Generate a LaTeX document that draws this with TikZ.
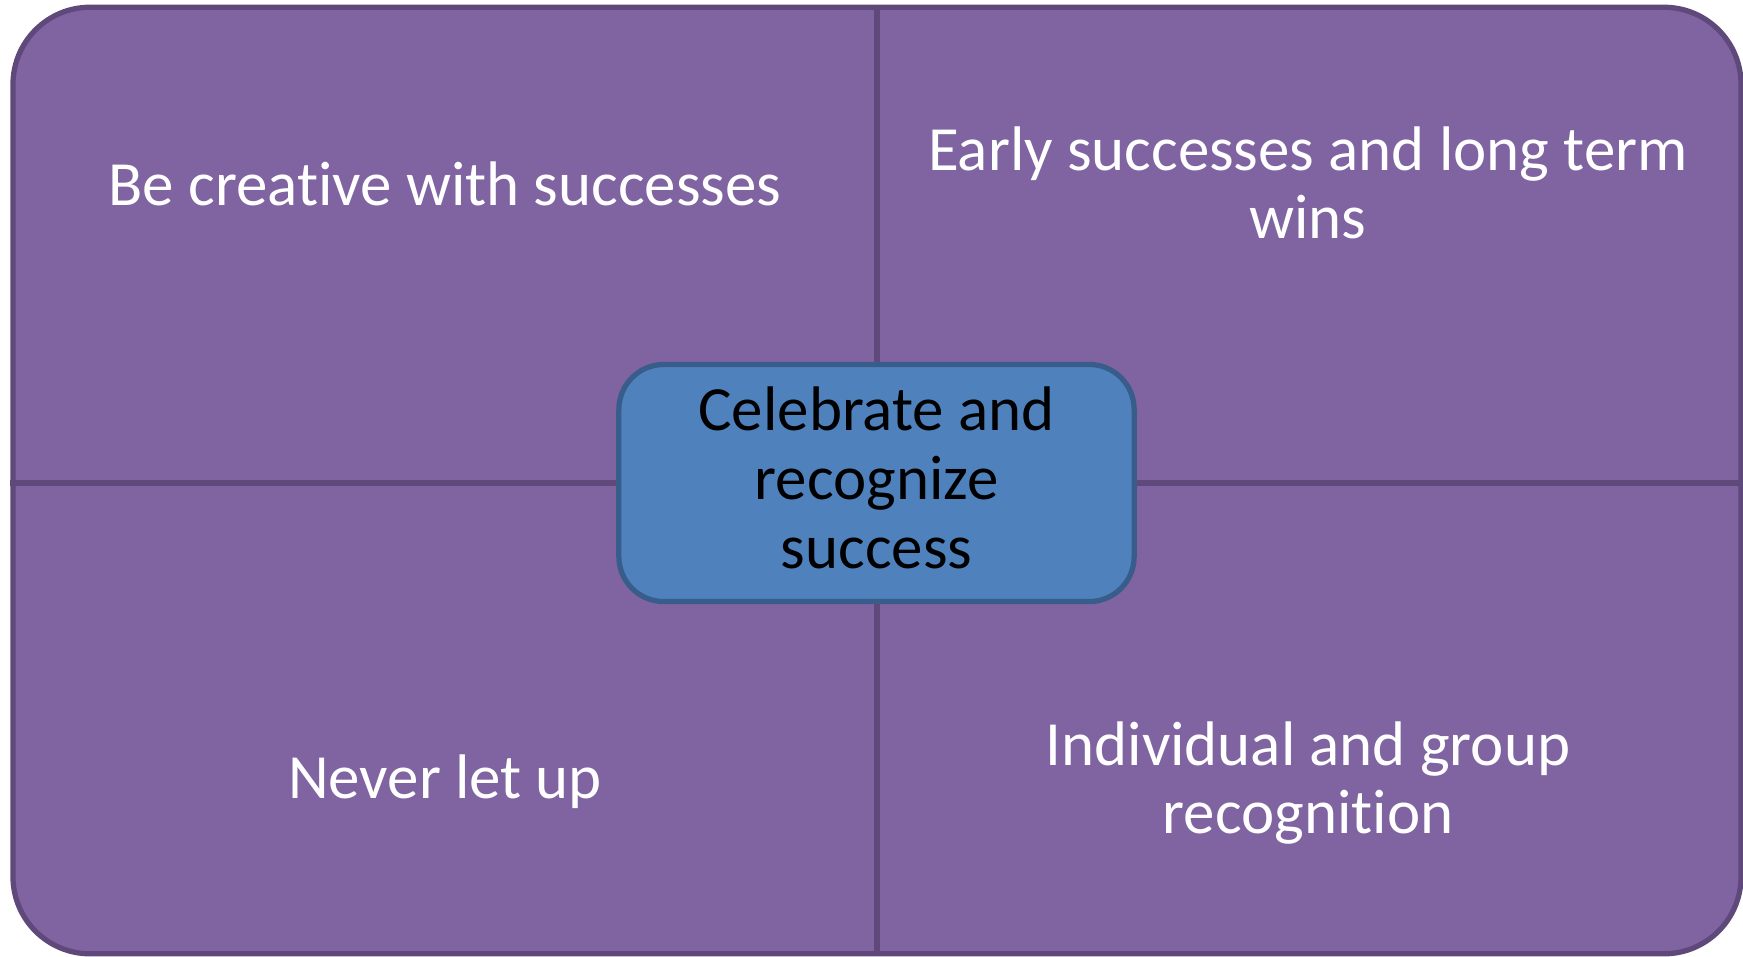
\documentclass[tikz,border=0pt]{standalone}
\usepackage{fontspec}
\setmainfont{Carlito}[Ligatures=NoCommon]
\usepackage{xcolor}
\usetikzlibrary{positioning}

\definecolor{quadfill}{HTML}{8064A2}
\definecolor{quadline}{HTML}{5F497A}
\definecolor{hubfill}{HTML}{4F81BD}
\definecolor{hubline}{HTML}{385D8A}

\begin{document}
\begin{tikzpicture}[x=0.01cm, y=-0.01cm,
    frame/.style={draw=quadline, fill=quadfill, line width=1.5pt,
        rounded corners=0.77cm, minimum width=17.27cm, minimum height=9.46cm},
    divider/.style={draw=quadline, line width=1.7pt},
    hub/.style={draw=hubline, fill=hubfill, line width=1.5pt,
        rounded corners=0.45cm, minimum width=5.15cm, minimum height=2.37cm,
        align=center, text=black, inner sep=0pt,
        font=\fontsize{17.9}{19.7}\selectfont},
    quad/.style={align=center, text=white, inner sep=0pt,
        font=\fontsize{17.9}{19.2}\selectfont}]
    \useasboundingbox (0,0) rectangle (1743,956);

    % Outer frame
    \node[frame] (frame) at (877,480.5) {};

    % Centre box position, dividers run through it
    \coordinate (mid) at (876.5,483);
    \draw[divider] (frame.north) -- (frame.south);
    \draw[divider] (frame.west |- mid) -- (frame.east |- mid);

    % Centre box
    \node[hub] (hub) at (mid) {Celebrate and\\recognize\\success\vphantom{g}};

    % Quadrant labels
    \node[quad] (creative) at (445,184) {Be creative with successes};
    \node[quad] (early) at (1308,183) {Early successes and long term\\wins};
    \node[quad] (never) at (445,782) {Never let up};
    \node[quad] (group) at (1308,783) {Individual and group\\recognition};
\end{tikzpicture}
\end{document}
